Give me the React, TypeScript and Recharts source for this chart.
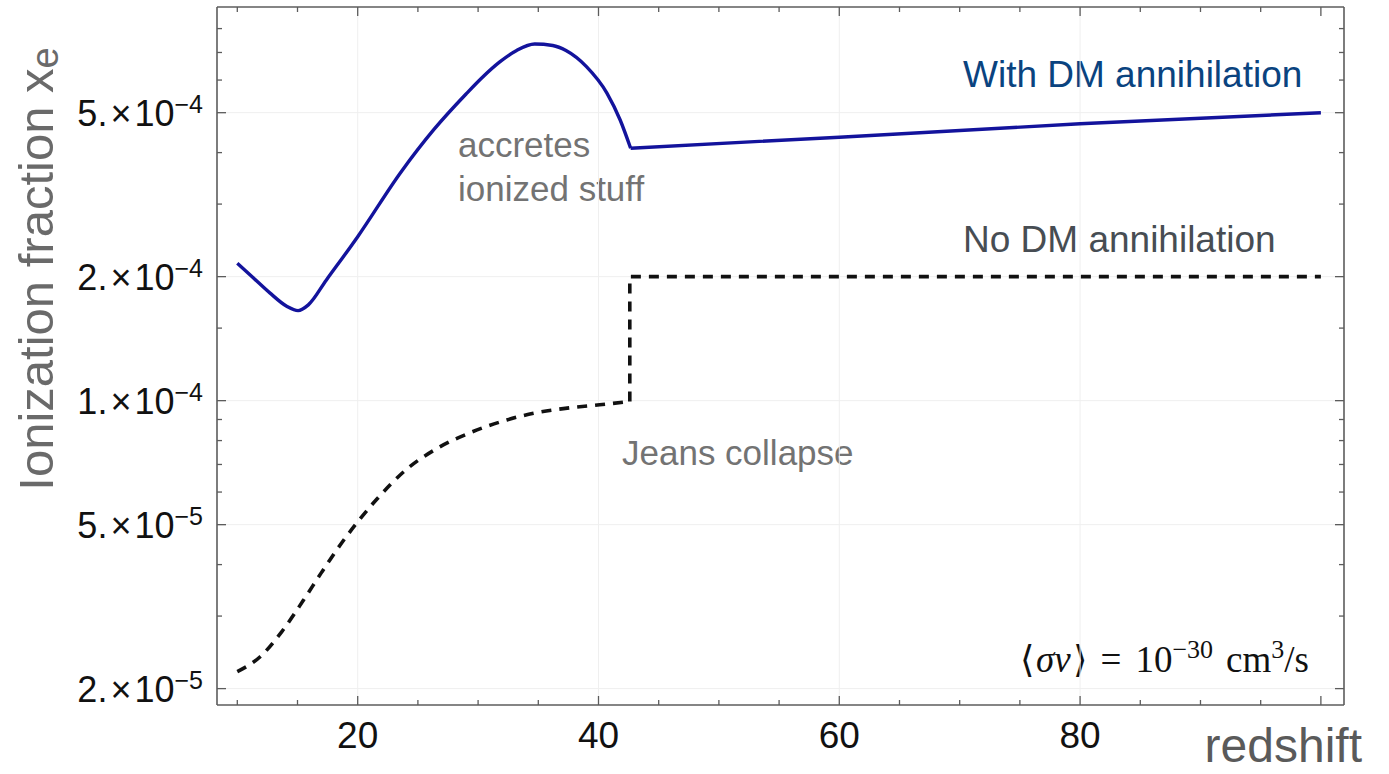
import { LineChart, Line, XAxis, YAxis, ReferenceLine } from 'recharts'

// ionization fraction x_e against redshift, with DM annihilation (solid)
const withDmRedshift = [10, 11.3, 12.7, 14.1, 15.05, 15.9, 17.4, 20, 23.6, 26.3, 29.0, 30.3, 31.8, 33.2, 34.7, 36.2, 37.3, 39.0, 40.7, 41.8, 42.67]
const withDmXe = [2.155e-4, 1.99e-4, 1.826e-4, 1.695e-4, 1.654e-4, 1.708e-4, 1.963e-4, 2.5e-4, 3.59e-4, 4.54e-4, 5.55e-4, 6.07e-4, 6.64e-4, 7.08e-4, 7.34e-4, 7.28e-4, 7.08e-4, 6.47e-4, 5.58e-4, 4.8e-4, 4.1e-4]
const withDmTailRedshift = [42.67, 60, 80, 100]
const withDmTailXe = [4.1e-4, 4.36e-4, 4.7e-4, 5.0e-4]

// without DM annihilation (dashed)
const noDmRedshift = [10, 11.9, 13.7, 15.5, 17.0, 18.8, 20.0, 21.6, 24.0, 26.6, 29.3, 32.4, 34.6, 37.4, 40.1, 42.6]
const noDmXe = [2.2e-5, 2.39e-5, 2.75e-5, 3.28e-5, 3.83e-5, 4.57e-5, 5.08e-5, 5.77e-5, 6.79e-5, 7.66e-5, 8.35e-5, 8.98e-5, 9.32e-5, 9.59e-5, 9.77e-5, 9.95e-5]
const noDmStepRedshift = [42.6, 42.6, 100]
const noDmStepXe = [9.95e-5, 2.0e-4, 2.0e-4]

// axis ticks
const xMajorTicks = [20, 40, 60, 80, 100]
const xMinorTicks = [10, 15, 25, 30, 35, 45, 50, 55, 65, 70, 75, 85, 90, 95]
const xTickLabels = [20, 40, 60, 80]
const yMajorTicks = [2e-5, 5e-5, 1e-4, 2e-4, 5e-4]
const yMinorTicks = [3e-5, 4e-5, 6e-5, 7e-5, 8e-5, 9e-5, 1.5e-4, 3e-4, 4e-4, 6e-4, 7e-4, 8e-4]
const yTickMantissa = ['2', '5', '1', '2', '5']
const yTickExponent = ['−5', '−5', '−4', '−4', '−4']

const X_DOMAIN: [number, number] = [8.314, 101.92]
const Y_DOMAIN: [number, number] = [1.825e-5, 9.026e-4]

const FRAME = '#5c5c5c'
const GRID = '#efefef'
const SANS = '"Liberation Sans", Arial, sans-serif'
const SERIF = '"Liberation Serif", "Times New Roman", serif'

const zip = (zs: number[], xs: number[]) => zs.map((z, i) => ({ z, xe: xs[i] }))

const withDmData = zip(withDmRedshift, withDmXe)
const withDmTail = zip(withDmTailRedshift, withDmTailXe)
const noDmData = zip(noDmRedshift, noDmXe)
const noDmStep = zip(noDmStepRedshift, noDmStepXe)

const allXTicks = [...xMajorTicks, ...xMinorTicks].sort((a, b) => a - b)
const allYTicks = [...yMajorTicks, ...yMinorTicks].sort((a, b) => a - b)

const tickLen = (major: boolean) => (major ? 9 : 5)

const BottomTick = ({ x, y, payload }: any) => {
  const v = payload.value
  return (
    <g>
      <line x1={x} x2={x} y1={y} y2={y - tickLen(xMajorTicks.includes(v))} stroke={FRAME} strokeWidth={1.3} />
      {xTickLabels.includes(v) && (
        <text x={x} y={y + 43} textAnchor="middle" fontSize={37} fontFamily={SANS} fill="#111">
          {v}
        </text>
      )}
    </g>
  )
}

const TopTick = ({ x, y, payload }: any) => (
  <line x1={x} x2={x} y1={y} y2={y + tickLen(xMajorTicks.includes(payload.value))} stroke={FRAME} strokeWidth={1.3} />
)

const LeftTick = ({ x, y, payload }: any) => {
  const i = yMajorTicks.indexOf(payload.value)
  return (
    <g>
      <line x1={x} x2={x + tickLen(i >= 0)} y1={y} y2={y} stroke={FRAME} strokeWidth={1.3} />
      {i >= 0 && (
        <text x={x - 14} y={y + 13} textAnchor="end" fontSize={36} fontFamily={SANS} fill="#111">
          {yTickMantissa[i]}.<tspan dx={3}>×</tspan>
          <tspan dx={3}>10</tspan>
          <tspan dy={-13} fontSize={25}>{yTickExponent[i]}</tspan>
        </text>
      )}
    </g>
  )
}

const RightTick = ({ x, y, payload }: any) => (
  <line x1={x} x2={x - tickLen(yMajorTicks.includes(payload.value))} y1={y} y2={y} stroke={FRAME} strokeWidth={1.3} />
)

export default function App() {
  return (
    <div style={{ position: 'absolute', left: 0, top: 0, width: 1389, height: 774, background: '#fff' }}>
      <LineChart width={1389} height={774} margin={{ top: 0, right: 0, bottom: 0, left: 0 }}>
        <XAxis
          dataKey="z"
          type="number"
          domain={X_DOMAIN}
          allowDataOverflow
          ticks={allXTicks}
          interval={0}
          height={69}
          tickSize={0}
          tickMargin={0}
          tick={<BottomTick />}
          axisLine={{ stroke: FRAME, strokeWidth: 1.6 }}
        />
        <XAxis
          xAxisId="top"
          orientation="top"
          dataKey="z"
          type="number"
          domain={X_DOMAIN}
          allowDataOverflow
          ticks={allXTicks}
          interval={0}
          height={7}
          tickSize={0}
          tickMargin={0}
          tick={<TopTick />}
          axisLine={{ stroke: FRAME, strokeWidth: 1.6 }}
        />
        <YAxis
          scale="log"
          type="number"
          domain={Y_DOMAIN}
          allowDataOverflow
          ticks={allYTicks}
          interval={0}
          width={217}
          tickSize={0}
          tickMargin={0}
          tick={<LeftTick />}
          axisLine={{ stroke: FRAME, strokeWidth: 1.6 }}
        />
        <YAxis
          yAxisId="right"
          orientation="right"
          scale="log"
          type="number"
          domain={Y_DOMAIN}
          allowDataOverflow
          ticks={allYTicks}
          interval={0}
          width={45}
          tickSize={0}
          tickMargin={0}
          tick={<RightTick />}
          axisLine={{ stroke: FRAME, strokeWidth: 1.6 }}
        />

        {xTickLabels.map((v) => (
          <ReferenceLine key={`gx${v}`} x={v} stroke={GRID} strokeWidth={1} />
        ))}
        {yMajorTicks.map((v) => (
          <ReferenceLine key={`gy${v}`} y={v} stroke={GRID} strokeWidth={1} />
        ))}

        <Line data={noDmData} dataKey="xe" type="monotone" stroke="#111" strokeWidth={3.6} strokeDasharray="10 8" dot={false} activeDot={false} isAnimationActive={false} />
        <Line data={noDmStep} dataKey="xe" type="linear" stroke="#111" strokeWidth={3.6} strokeDasharray="10 8" dot={false} activeDot={false} isAnimationActive={false} />
        <Line data={withDmData} dataKey="xe" type="monotone" stroke="#13139c" strokeWidth={3.4} dot={false} activeDot={false} isAnimationActive={false} />
        <Line data={withDmTail} dataKey="xe" type="linear" stroke="#13139c" strokeWidth={3.4} dot={false} activeDot={false} isAnimationActive={false} />

        {/* axis titles */}
        <text transform="translate(53, 269) rotate(-90)" textAnchor="middle" fontSize={49} fontFamily={SANS} fill="#6a6a6a">
          Ionization fraction x<tspan dy={5} fontSize={38}>e</tspan>
        </text>
        <text x={1362} y={762} textAnchor="end" fontSize={48} fontFamily={SANS} fill="#5a5a5a">
          redshift
        </text>

        {/* curve annotations */}
        <text x={963} y={87} fontSize={37} fontFamily={SANS} fill="#0a437f">With DM annihilation</text>
        <text x={963} y={252} fontSize={37} fontFamily={SANS} fill="#474d53">No DM annihilation</text>
        <text x={458} y={157} fontSize={35} fontFamily={SANS} fill="#737373">accretes</text>
        <text x={458} y={201} fontSize={35} fontFamily={SANS} fill="#737373">ionized stuff</text>
        <text x={622} y={465} fontSize={35} fontFamily={SANS} fill="#737373">Jeans collapse</text>

        <text x={1309} y={672} textAnchor="end" fontSize={37} fontFamily={SERIF} fill="#111">
          ⟨<tspan dx={2} fontStyle="italic">σv</tspan>
          <tspan dx={2}>⟩</tspan>
          <tspan dx={14}>=</tspan>
          <tspan dx={14}>10</tspan>
          <tspan dy={-14} fontSize={26}>−30</tspan>
          <tspan dy={14} dx={13}>cm</tspan>
          <tspan dy={-14} fontSize={26}>3</tspan>
          <tspan dy={14}>/s</tspan>
        </text>
      </LineChart>
    </div>
  )
}
